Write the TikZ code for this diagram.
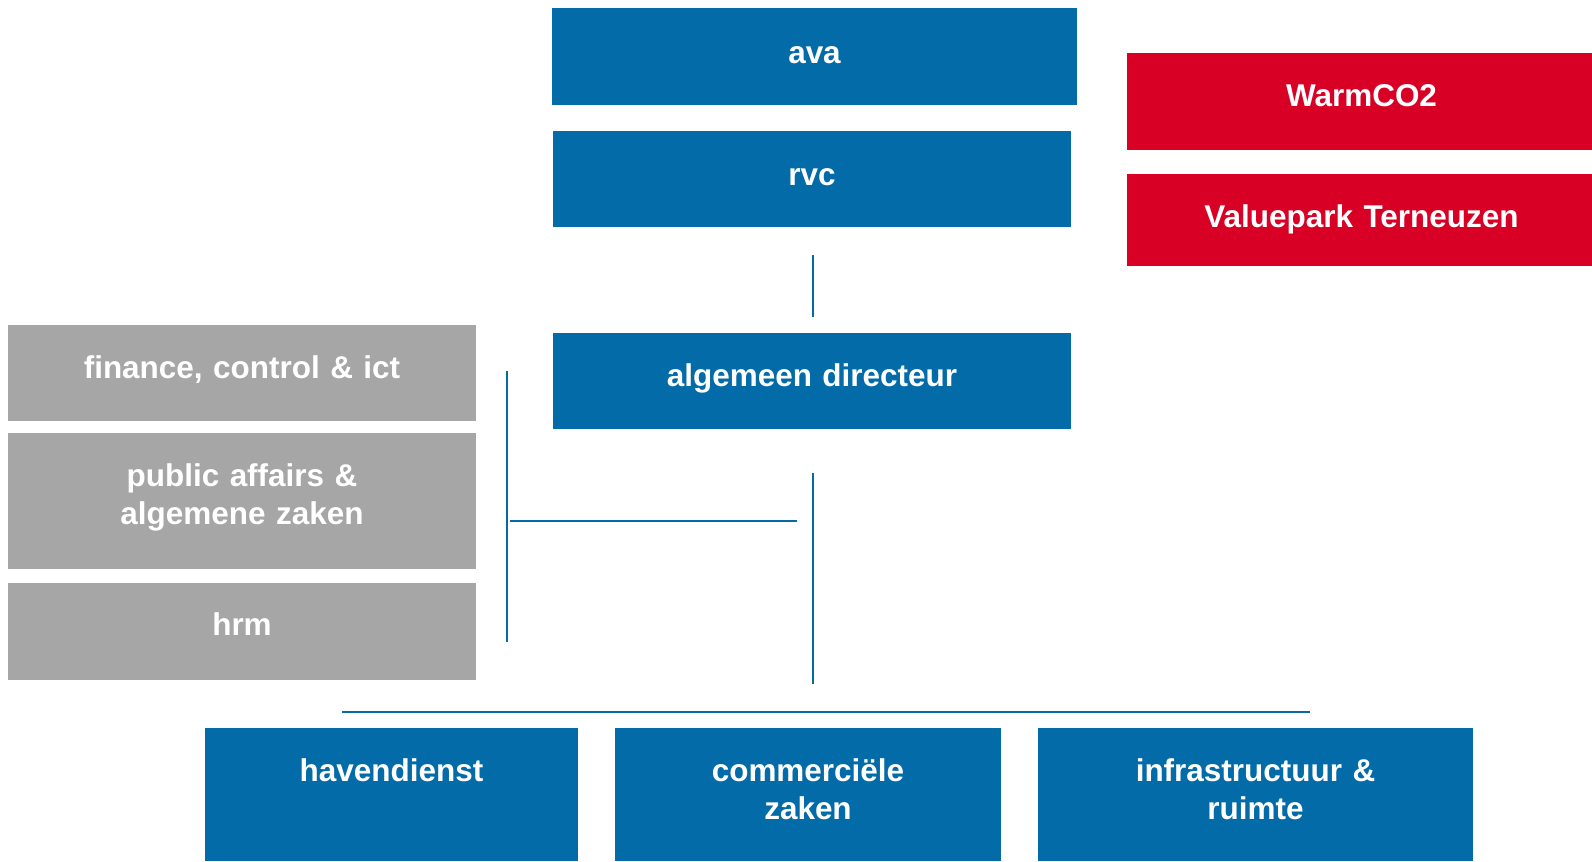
\documentclass[tikz,border=0pt]{standalone}
\usepackage{fontspec}
\setmainfont{Liberation Sans}
\usetikzlibrary{fit,calc}

\definecolor{zsblue}{RGB}{3,108,168}
\definecolor{zsred}{RGB}{217,0,37}
\definecolor{zsgrey}{RGB}{166,166,166}

\tikzset{
  orgbox/.style={rectangle, inner sep=0pt, draw=none},
  bluebox/.style={orgbox, fill=zsblue},
  redbox/.style={orgbox, fill=zsred},
  greybox/.style={orgbox, fill=zsgrey},
  boxtext/.style={anchor=base, inner sep=0pt, text=white, text width=#1, align=center,
    font=\bfseries\fontsize{23.6}{28.2}\selectfont},
  boxtext/.default=300pt,
  orgline/.style={draw=zsblue, line width=1.5pt}
}

\begin{document}
\begin{tikzpicture}[x=0.75pt,y=0.75pt,yscale=-1,xscale=1]
\useasboundingbox (0,0) rectangle (1592,861);

%Boxes top
\node [bluebox, fit={(552,8) (1077,105)}] (ava) {};
\node [bluebox, fit={(553,131) (1071,227)}] (rvc) {};
\node [bluebox, fit={(553,333) (1071,429)}] (ad) {};

%Participations
\node [redbox, fit={(1127,53) (1592,150)}] (warm) {};
\node [redbox, fit={(1127,174) (1592,266)}] (value) {};

%Staff
\node [greybox, fit={(8,325) (476,421)}] (fci) {};
\node [greybox, fit={(8,433) (476,569)}] (paz) {};
\node [greybox, fit={(8,583) (476,680)}] (hrm) {};

%Departments
\node [bluebox, fit={(205,728) (578,861)}] (haven) {};
\node [bluebox, fit={(615,728) (1001,861)}] (comm) {};
\node [bluebox, fit={(1038,728) (1473,861)}] (infra) {};

% Text Node
\node [boxtext] (ava-t) at ($(ava.north)+(0,56)$) {ava};
\node [boxtext] (rvc-t) at ($(rvc.north)+(0,55)$) {rvc};
\node [boxtext] (ad-t) at ($(ad.north)+(0,54)$) {algemeen directeur};
\node [boxtext] (warm-t) at ($(warm.north)+(2,54)$) {WarmCO2};
\node [boxtext] (value-t) at ($(value.north)+(2,54)$) {Valuepark Terneuzen};
\node [boxtext] (fci-t) at ($(fci.north)+(0,54)$) {finance, control \& ict};
\node [boxtext] (paz-t) at ($(paz.north)+(0,54)$) {public affairs \&\\ algemene zaken};
\node [boxtext] (hrm-t) at ($(hrm.north)+(0,53)$) {hrm};
\node [boxtext] (haven-t) at ($(haven.north)+(0,54)$) {havendienst};
\node [boxtext] (comm-t) at ($(comm.north)+(0,54)$) {commerciële\\ zaken};
\node [boxtext] (infra-t) at ($(infra.north)+(0,54)$) {infrastructuur \&\\ ruimte};

%Lines
\coordinate (rvc-d) at ($(rvc.south)+(1,28)$);
\coordinate (ad-u) at ($(ad.north)+(1,-16)$);
\coordinate (ad-d) at ($(ad.south)+(1,44)$);
\coordinate (dep-j) at ($(ad.south)+(1,255)$);
\coordinate (staf-top) at (507,371);
\coordinate (staf-bot) at (507,642);
\coordinate (staf-l) at (510,520.5);
\coordinate (staf-r) at (797,520.5);
\coordinate (dep-l) at (342,712);
\coordinate (dep-r) at (1310,712);

\draw [orgline] (rvc-d) -- (ad-u);
\draw [orgline] (ad-d) -- (dep-j);
\draw [orgline] (staf-top) -- (staf-bot);
\draw [orgline] (staf-l) -- (staf-r);
\draw [orgline] (dep-l) -- (dep-r);

\end{tikzpicture}
\end{document}
